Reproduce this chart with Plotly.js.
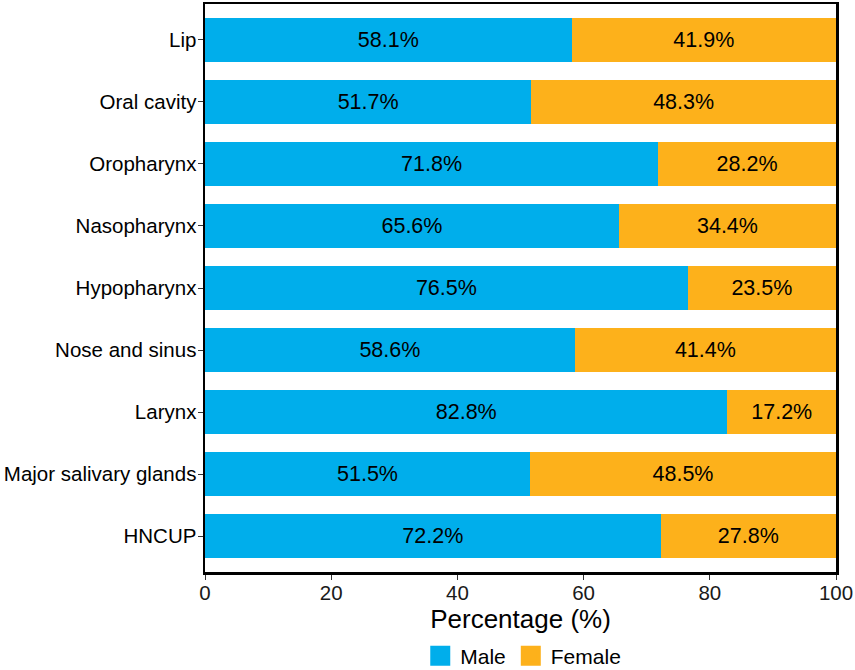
<!DOCTYPE html>
<html>
<head>
<meta charset="utf-8">
<script src="https://cdn.plot.ly/plotly-3.0.1.min.js"></script>
<style>
  html, body { margin: 0; padding: 0; background: #ffffff; }
  #chart { width: 855px; height: 670px; }
</style>
</head>
<body>
<div id="chart"></div>
<script>
// Head and neck cancer sites, share of cases by sex
const sites = ["Lip", "Oral cavity", "Oropharynx", "Nasopharynx", "Hypopharynx",
               "Nose and sinus", "Larynx", "Major salivary glands", "HNCUP"];
const malePct = [58.1, 51.7, 71.8, 65.6, 76.5, 58.6, 82.8, 51.5, 72.2];
const femalePct = [41.9, 48.3, 28.2, 34.4, 23.5, 41.4, 17.2, 48.5, 27.8];
const xTicks = [0, 20, 40, 60, 80, 100];
const seriesNames = ["Male", "Female"];
const seriesColors = ["#00AEEB", "#FDB11B"];

const FONT = "Liberation Sans, Arial, Helvetica, sans-serif";
const fmt = v => v.toFixed(1) + "%";

function barTrace(name, values, color) {
  return {
    type: "bar",
    orientation: "h",
    name: name,
    y: sites,
    x: values,
    width: 0.71,
    text: values.map(fmt),
    textposition: "inside",
    insidetextanchor: "middle",
    textfont: { family: FONT, size: 21.5, color: "#000000" },
    marker: { color: color, line: { width: 0 } },
    showlegend: false,
    hoverinfo: "skip"
  };
}

// Legend keys: large filled squares, one per series
function legendKey(name, color) {
  return {
    type: "scatter",
    mode: "markers",
    name: name,
    x: [null],
    y: [null],
    marker: { symbol: "square", size: 16, color: color, line: { width: 4, color: color } },
    showlegend: true,
    hoverinfo: "skip"
  };
}

const traces = [
  barTrace(seriesNames[0], malePct, seriesColors[0]),
  barTrace(seriesNames[1], femalePct, seriesColors[1]),
  legendKey(seriesNames[0], seriesColors[0]),
  legendKey(seriesNames[1], seriesColors[1])
];

const layout = {
  width: 855,
  height: 670,
  barmode: "stack",
  paper_bgcolor: "#ffffff",
  plot_bgcolor: "#ffffff",
  font: { family: FONT, color: "#000000" },
  margin: { l: 205, r: 19, t: 4, b: 98, autoexpand: false },
  showlegend: true,
  legend: {
    orientation: "h",
    xref: "container",
    yref: "container",
    x: 0.612,
    xanchor: "center",
    y: 14 / 670,
    yanchor: "middle",
    font: { family: FONT, size: 21, color: "#000000" },
    itemsizing: "trace",
    traceorder: "normal",
    bgcolor: "rgba(0,0,0,0)"
  },
  xaxis: {
    range: [0, 100],
    tickvals: xTicks,
    ticktext: xTicks.map(String),
    ticks: "outside",
    ticklen: 5,
    tickwidth: 1,
    tickcolor: "#333333",
    ticklabelstandoff: -4,
    tickfont: { family: FONT, size: 20.5, color: "#1a1a1a" },
    showgrid: false,
    zeroline: false,
    showline: true,
    linecolor: "#000000",
    linewidth: 2.5,
    mirror: true,
    title: { text: "Percentage (%)", font: { family: FONT, size: 26, color: "#000000" }, standoff: 0 }
  },
  yaxis: {
    range: [8.575, -0.575],
    ticks: "outside",
    ticklen: 5,
    tickwidth: 1,
    tickcolor: "#333333",
    ticklabelstandoff: -3,
    tickfont: { family: FONT, size: 20.5, color: "#000000" },
    showgrid: false,
    zeroline: false,
    showline: true,
    linecolor: "#000000",
    linewidth: 2.5,
    mirror: true
  }
};

Plotly.newPlot("chart", traces, layout, { displayModeBar: false, staticPlot: true });
</script>
</body>
</html>
